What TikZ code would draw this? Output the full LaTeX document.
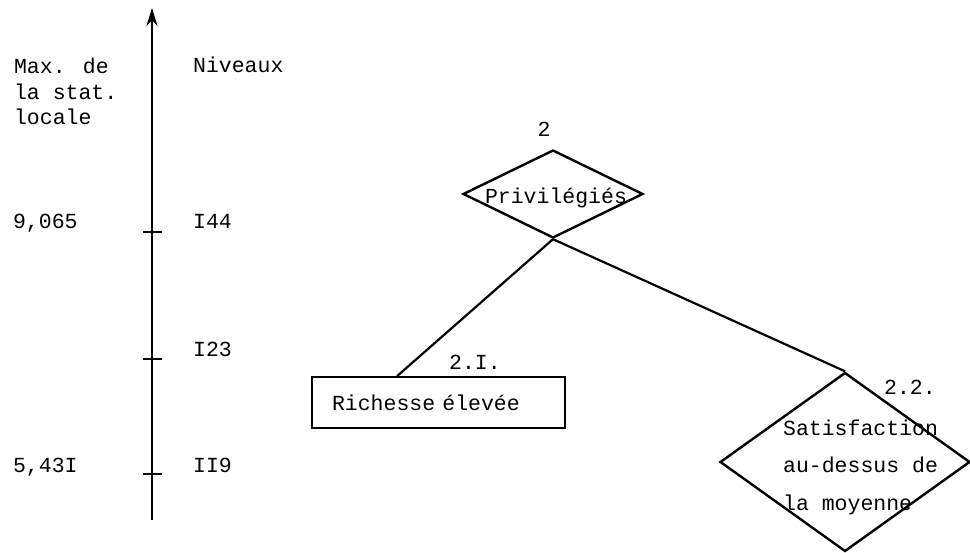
\documentclass[tikz,border=0pt]{standalone}
\usepackage{fontspec}
\setmainfont{Liberation Mono}
\usetikzlibrary{shapes.geometric,arrows.meta}

\begin{document}
\begin{tikzpicture}[x=1pt,y=-1pt,line width=2.2pt,
    font=\fontsize{21.5}{25.5}\selectfont,
    losange/.style={draw,diamond,inner sep=0pt,line width=2.4pt},
    boite/.style={draw,rectangle,line width=1.8pt},
    texte/.style={anchor=base west,align=left,inner sep=0pt}]
    \useasboundingbox (0,0) rectangle (970,553);

    % axe des niveaux
    \coordinate (bas) at (152,520);
    \coordinate (haut) at (152,8);
    \draw[-{Stealth[length=18pt,width=11pt]}] (bas) -- (haut);
    \foreach \y in {232,359,474}
        \draw (143,\y) -- (162,\y);

    % base west = ligne du bas
    \node[texte] (max) at (13,125) {Max. de\\la stat.\\locale};
    \node[texte] (niv) at (192,73) {Niveaux};
    \node[texte] (s1) at (12,229) {9,065};
    \node[texte] (n1) at (192,229) {I44};
    \node[texte] (n2) at (192,357) {I23};
    \node[texte] (s3) at (12,472) {5,43I};
    \node[texte] (n3) at (192,472) {II9};

    % arbre
    \node[losange,minimum width=180,minimum height=88] (priv) at (553,194) {};
    \node[anchor=base,inner sep=0pt] (privtxt) at (556,204) {Privilégiés};
    \node[anchor=base,inner sep=0pt] (lab2) at (544,137) {2};

    \node[boite,text width=213,inner xsep=20pt,minimum height=51,align=left] (rich) at (438.5,402.5) {Richesse élevée};
    \node[texte] (lab21) at (448,370) {2.I.};

    \node[losange,minimum width=250,minimum height=179] (sat) at (845,462) {};
    \node[texte,font=\fontsize{21.5}{37.5}\selectfont] (sattxt) at (782,510) {Satisfaction\\au-dessus de\\la moyenne};
    \node[texte] (lab22) at (883,395) {2.2.};

    \draw (priv.south) -- ([xshift=86pt]rich.north west);
    \draw (priv.south) -- (sat.north);
\end{tikzpicture}
\end{document}
